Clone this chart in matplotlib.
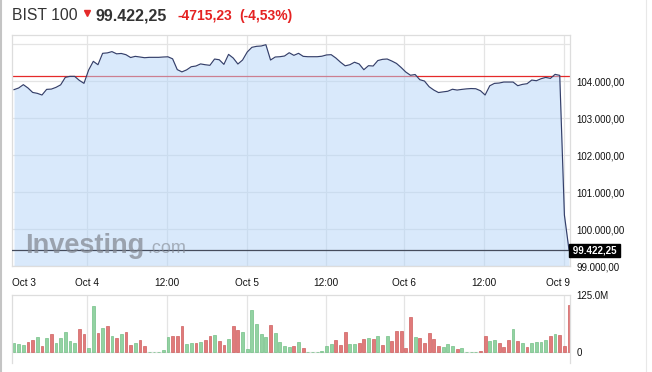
import numpy as np
import matplotlib.pyplot as plt
from matplotlib.transforms import blended_transform_factory
from matplotlib.lines import Line2D

plt.rcParams['font.family'] = ['Liberation Sans', 'DejaVu Sans']

# 15-minute bars, Oct 3 (afternoon) .. Oct 9 (first two bars)
price = [103775, 103820, 103910, 103820, 103700, 103675, 103630, 103783, 103790, 103837,
         103905, 104108, 104135, 104135, 104027, 103946, 104306, 104542, 104450, 104759,
         104770, 104805, 104745, 104755, 104722, 104645, 104677, 104659, 104640, 104650,
         104650, 104650, 104659, 104665, 104610, 104318, 104256, 104310, 104396, 104415,
         104472, 104450, 104434, 104604, 104585, 104460, 104730, 104631, 104469, 104577,
         104794, 104921, 104948, 104957, 104992, 104577, 104659, 104667, 104686, 104775,
         104704, 104759, 104677, 104667, 104667, 104667, 104680, 104715, 104722, 104632,
         104518, 104420, 104450, 104518, 104470, 104315, 104424, 104415, 104563, 104596,
         104605, 104550, 104485, 104375, 104252, 104165, 104185, 104045, 104008, 103854,
         103765, 103697, 103715, 103732, 103786, 103764, 103782, 103796, 103805, 103800,
         103746, 103630, 103880, 103945, 103954, 103981, 103981, 103981, 103882, 103918,
         103936, 104035, 104017, 104071, 104107, 104080, 104189, 104162, 100380, 99422.25]

# volume in millions
volume = [20.3, 18.2, 15.3, 21.8, 26.2, 32.7, 13.1, 30.5, 39.2, 19.6,
          30.5, 43.6, 24.0, 19.6, 50.1, 39.2, 8.0, 100.3, 41.4, 52.3,
          56.7, 34.9, 30.5, 39.2, 43.6, 15.3, 19.6, 26.2, 13.1, 0,
          0, 0, 4.4, 32.7, 34.9, 34.9, 56.7, 17.4, 19.6, 19.6,
          21.8, 26.2, 34.9, 37.1, 24.0, 15.3, 28.3, 56.7, 48.0, 43.6,
          6.5, 91.6, 61.0, 39.2, 32.7, 58.9, 41.4, 21.8, 13.1, 10.9,
          13.1, 21.8, 8.7, 0, 0, 0, 2.5, 12.5, 17.4, 26.2,
          15.3, 43.6, 17.4, 17.4, 19.6, 28.3, 30.5, 28.3, 34.9, 15.3,
          34.9, 24.0, 45.8, 45.8, 8.7, 76.3, 32.7, 30.5, 19.6, 41.4,
          28.3, 13.1, 10.9, 17.4, 13.1, 6.5, 8.7, 0, 0, 0,
          2.2, 34.9, 24.0, 26.2, 19.6, 10.9, 26.2, 50.1, 24.0, 19.6,
          10.9, 19.6, 21.8, 21.8, 26.2, 34.9, 39.2, 37.1, 13.1, 102.5]

# 1 = up bar (green), 0 = down bar (red)
up = [1, 1, 1, 0, 0, 1, 0, 1, 0, 1,
      1, 1, 1, 1, 0, 0, 1, 1, 0, 1,
      0, 1, 0, 1, 0, 0, 1, 0, 0, 1,
      1, 1, 1, 1, 0, 0, 0, 1, 1, 0,
      1, 0, 0, 1, 0, 0, 1, 0, 0, 1,
      1, 1, 1, 1, 1, 0, 1, 1, 1, 1,
      0, 1, 0, 1, 1, 1, 1, 1, 1, 0,
      0, 0, 1, 1, 0, 0, 1, 0, 1, 0,
      1, 0, 0, 0, 0, 0, 1, 0, 0, 0,
      0, 0, 1, 1, 1, 0, 1, 1, 1, 1,
      0, 0, 1, 1, 0, 0, 0, 1, 0, 1,
      0, 1, 1, 1, 1, 0, 1, 0, 0, 0]

tick_labels = ["Oct 3", "Oct 4", "12:00", "Oct 5", "12:00", "Oct 6", "12:00", "Oct 9"]
price_ticks = [99000, 100000, 101000, 102000, 103000, 104000, 105000]
prev_close = 104137.48
last_price = 99422.25
change = "-4715,23"
change_pct = "(-4,53%)"

# layout
W, H = 652, 372
x = np.arange(len(price))
tick_pos = [-0.43, 15.7, 32.85, 49.86, 66.8, 83.6, 100.8, 117.85]
xmin, xmax = -0.43, 119.2


def tr_num(v, dec=2):
    s = f"{v:,.{dec}f}"
    return s.replace(",", "X").replace(".", ",").replace("X", ".")


fig = plt.figure(figsize=(W / 100, H / 100), dpi=100)
ax = fig.add_axes([12 / W, 106 / H, 558 / W, 231 / H])
axv = fig.add_axes([12 / W, 9 / H, 558 / W, 68.3 / H])

grid_c = '#e4e4e4'
spine_c = '#dddddd'

# price panel
for t in tick_pos[1:]:
    ax.axvline(t, color=grid_c, lw=0.9, zorder=0)
for p in price_ticks:
    ax.axhline(p, color=grid_c, lw=0.9, zorder=0)
ax.axhline(prev_close, color='#e52a2a', lw=0.9, zorder=1)
ax.fill_between(x, price, 98000, color='#b4d5f9', alpha=0.5, lw=0, zorder=2)
ax.plot(x, price, color='#343f6a', lw=0.85, zorder=3)
ax.axhline(last_price, color='#454c5c', lw=0.9, zorder=4)

ax.set_xlim(xmin, xmax)
ax.set_ylim(99000, 105255)
ax.set_xticks([])
ax.yaxis.tick_right()
ax.set_yticks(price_ticks)
ax.set_yticklabels([tr_num(p) for p in price_ticks[:-1]] + [""])
ax.tick_params(axis='y', length=0, pad=4.8, labelsize=7, labelcolor='#111111')
for s in ax.spines.values():
    s.set_color(spine_c)
    s.set_linewidth(0.9)

# current price badge
ax.text(1.0, last_price, " " + tr_num(last_price) + " ", transform=ax.get_yaxis_transform(),
        ha='left', va='center', fontsize=7, fontweight='bold', color='white',
        bbox=dict(boxstyle='square,pad=0.12', fc='black', ec='black'), zorder=6, clip_on=False)

# watermark
fig.text(25 / W, 1 - 253 / H, "Investing", fontsize=19.5, fontweight='bold',
         color='#80858e', alpha=0.7, ha='left', va='baseline')
fig.text(147 / W, 1 - 253 / H, ".com", fontsize=13, color='#80858e', alpha=0.6,
         ha='left', va='baseline')

# x labels
trx = blended_transform_factory(ax.transData, fig.transFigure)
ylab = 1 - 282.5 / H
for i, (t, lab) in enumerate(zip(tick_pos, tick_labels)):
    if i == 0:
        ax.text(xmin, ylab, lab, transform=trx, ha='left', va='center', fontsize=7.2, color='#111111')
    elif i == len(tick_pos) - 1:
        ax.text(xmax, ylab, lab, transform=trx, ha='right', va='center', fontsize=7.2, color='#111111')
    else:
        ax.text(t, ylab, lab, transform=trx, ha='center', va='center', fontsize=7.2, color='#111111')

# volume panel
vol = np.array(volume) * 1e6
fc = ['#93d2a2' if u else '#e07a7a' for u in up]
ec = ['#74c087' if u else '#cf5f5f' for u in up]
axv.vlines(tick_pos[1:], 0, 125e6, color=grid_c, lw=0.9, zorder=0)
axv.axhline(0, color=grid_c, lw=0.9, zorder=0)
axv.bar(x, vol, width=0.6, color=fc, edgecolor=ec, lw=0.5, zorder=2)
axv.set_xlim(xmin, xmax)
axv.set_ylim(-24e6, 125e6)
axv.set_xticks([])
axv.yaxis.tick_right()
axv.set_yticks([0, 125e6])
axv.set_yticklabels(["0", "125.0M"])
axv.tick_params(axis='y', length=0, pad=4.8, labelsize=7, labelcolor='#111111')
for s in axv.spines.values():
    s.set_color(spine_c)
    s.set_linewidth(0.9)
axv.spines['bottom'].set_visible(False)

# header
ytop = 1 - 16 / H
fig.text(12 / W, ytop, "BIST 100", fontsize=11.3, color='#333333', ha='left', va='center')
fig.lines.append(Line2D([87 / W], [1 - 12.5 / H], marker='v', ms=4, color='#e52a2a',
                        transform=fig.transFigure))
fig.text(96 / W, ytop, tr_num(last_price), fontsize=11.5, fontweight='bold', color='#333333',
         ha='left', va='center')
fig.text(177 / W, ytop, change, fontsize=10, fontweight='bold', color='#e52222',
         ha='left', va='center')
fig.text(239 / W, ytop, change_pct, fontsize=10, fontweight='bold', color='#e52222',
         ha='left', va='center')

# page borders
fig.lines.append(Line2D([1 / W, 1 / W], [0, 1], color='#c4c4c4', lw=1.5, transform=fig.transFigure))
fig.lines.append(Line2D([645.5 / W, 645.5 / W], [0, 1], color='#e8e8e8', lw=0.8, transform=fig.transFigure))

fig.savefig("out.png", dpi=100)
